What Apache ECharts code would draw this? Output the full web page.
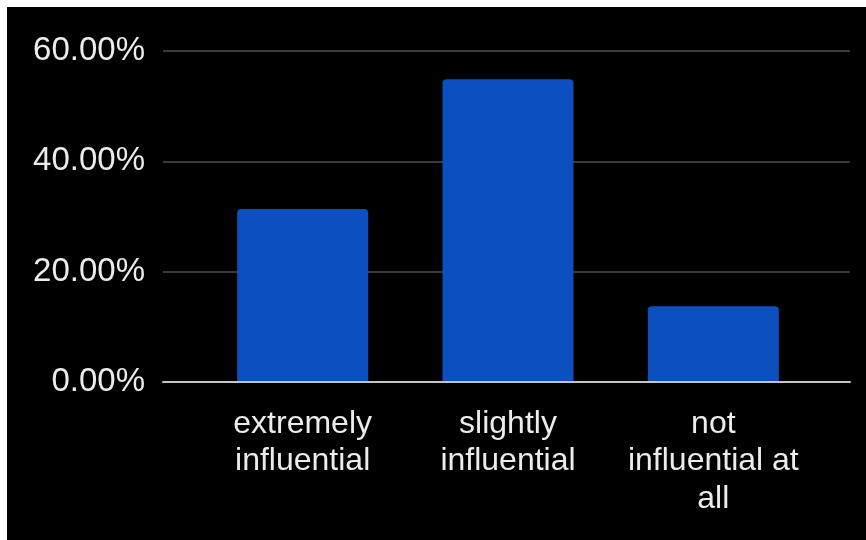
<!DOCTYPE html>
<html>
<head>
<meta charset="utf-8">
<script src="https://cdn.jsdelivr.net/npm/echarts@6/dist/echarts.min.js"></script>
<style>
  html, body { margin: 0; padding: 0; background: #fff; }
  #chart { position: absolute; left: 7px; top: 7px; width: 859px; height: 533px; }
</style>
</head>
<body>
<div id="chart"></div>
<script>
// categories and values (percent)
const categories = ['extremely\ninfluential', 'slightly\ninfluential', 'not\ninfluential at\nall'];
const shares = [31.37, 54.90, 13.73];
const yTicks = [0, 20, 40, 60];

const chart = echarts.init(document.getElementById('chart'));
const font = 'Liberation Sans, Arial, sans-serif';

chart.setOption({
  backgroundColor: '#000',
  animation: false,
  textStyle: { fontFamily: font },
  // grid 0 carries the y labels and gridlines, grid 1 the bars
  grid: [
    { left: 156, right: 16, top: 44, bottom: 158 },
    { left: 193, right: 50, top: 44, bottom: 158 }
  ],
  xAxis: [
    {
      gridIndex: 0, type: 'value', min: 0, max: 1,
      axisLabel: { show: false }, axisTick: { show: false }, splitLine: { show: false },
      axisLine: { show: true, lineStyle: { color: '#c4c4c4', width: 2 } },
      z: 5
    },
    {
      gridIndex: 1, type: 'category', data: categories,
      axisLine: { show: false }, axisTick: { show: false },
      axisLabel: {
        color: '#ececec', fontSize: 32, lineHeight: 37.5, margin: 23,
        fontFamily: font, interval: 0
      }
    }
  ],
  yAxis: [
    {
      gridIndex: 0, type: 'value',
      min: yTicks[0], max: yTicks[yTicks.length - 1], interval: 20,
      axisLine: { show: false }, axisTick: { show: false },
      axisLabel: {
        color: '#ececec', fontSize: 33, margin: 18, fontFamily: font,
        formatter: v => v.toFixed(2) + '%'
      },
      splitLine: { lineStyle: { color: '#3a3a3a', width: 2 } }
    },
    {
      gridIndex: 1, type: 'value',
      min: yTicks[0], max: yTicks[yTicks.length - 1], interval: 20,
      show: false
    }
  ],
  series: [
    {
      type: 'bar',
      xAxisIndex: 1,
      yAxisIndex: 1,
      data: shares,
      barWidth: 131,
      itemStyle: { color: '#0c4fbe', borderRadius: [4, 4, 0, 0] }
    }
  ]
});
</script>
</body>
</html>
